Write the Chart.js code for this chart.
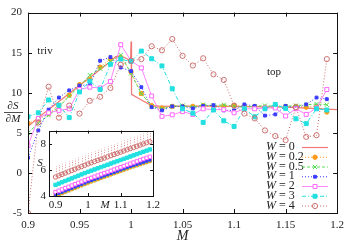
<!DOCTYPE html>
<html>
<head>
<meta charset="utf-8">
<script src="https://cdn.jsdelivr.net/npm/chart.js@4/dist/chart.umd.min.js"></script>
<style>
  body { margin: 0; background: #fff; }
  #wrap { position: relative; width: 350px; height: 245px; }
  #main { position: absolute; left: 0; top: 0; }
  #inset { position: absolute; left: 18px; top: 121px; }
</style>
</head>
<body>
<div id="wrap">
  <canvas id="main" width="350" height="245"></canvas>
  <canvas id="inset" width="145" height="96"></canvas>
</div>
<script>
// valeurs de M (pas de 0.01)
const M = [0.90, 0.91, 0.92, 0.93, 0.94, 0.95, 0.96, 0.97, 0.98, 0.99,
           1.00, 1.01, 1.02, 1.03, 1.04, 1.05, 1.06, 1.07, 1.08, 1.09,
           1.10, 1.11, 1.12, 1.13, 1.14, 1.15, 1.16, 1.17, 1.18, 1.19];

// W = 0 : courbe continue plus fine
const M_W0  = [0.90, 0.91, 0.92, 0.93, 0.94, 0.95, 0.96, 0.97, 0.98, 0.985, 0.99, 0.995, 0.9995, 1.0, 1.0005, 1.01, 1.02, 1.03, 1.05, 1.10, 1.15, 1.20];
const dS_W0 = [5.8, 6.9, 7.9, 8.9, 9.9, 10.9, 11.9, 12.9, 13.9, 14.5, 14.6, 14.3, 14.0, 16.4, 9.8, 9.1, 8.4, 8.3, 8.35, 8.3, 8.2, 7.9];

// dS/dM pour chaque desordre W
const dS_W02 = [6.2, 6.7, 7.4, 8.4, 9.7, 11.0, 11.7, 13.2, 14.2, 14.4, 12.6, 9.9, 8.4, 8.1, 8.3, 8.3, 8.3, 8.4, 8.3, 8.3, 8.4, 8.3, 8.3, 8.2, 8.3, 8.3, 8.3, 8.2, 8.3, 7.6];
const dS_W05 = [5.0, 6.2, 7.2, 8.2, 9.6, 10.8, 12.2, 13.0, 13.9, 14.7, 12.4, 9.9, 8.3, 8.0, 8.3, 8.4, 8.2, 8.5, 8.4, 8.5, 8.3, 8.2, 8.3, 8.4, 8.3, 8.3, 8.4, 8.5, 8.6, 8.5];
const dS_W1  = [1.9, 5.3, 7.9, 9.4, 10.3, 10.9, 11.0, 14.0, 14.45, 13.15, 12.7, 10.7, 8.2, 7.8, 8.3, 8.3, 8.05, 8.35, 8.45, 7.8, 7.8, 8.55, 8.35, 7.15, 7.3, 8.35, 8.1, 8.55, 9.4, 9.2];
const dS_W2  = [3.4, 6.8, 7.5, 7.8, 8.0, 10.4, 10.7, 10.6, 11.4, 16.0, 14.0, 13.1, 9.6, 7.05, 7.25, 7.65, 7.3, 8.0, 7.9, 7.9, 7.5, 8.0, 8.0, 8.1, 8.1, 7.1, 8.0, 7.3, 8.1, 10.4];
const dS_W3  = [7.0, 7.5, 9.1, 8.45, 6.9, 10.1, 11.45, 10.4, 13.55, 14.2, 13.9, 15.2, 14.25, 13.35, 10.5, 8.0, 7.45, 6.3, 7.85, 6.5, 5.8, 8.0, 7.0, 8.0, 8.55, 8.05, 6.75, 6.15, 8.0, 7.85];
const dS_W4  = [-5.0, 6.3, 10.75, 6.9, 8.4, 7.4, 9.0, 9.5, 10.6, 13.5, 14.0, 14.2, 15.8, 15.3, 16.7, 14.6, 13.4, 14.3, 12.3, 11.6, 8.4, 7.4, 6.8, 5.3, 4.6, 4.1, 8.2, 4.5, 4.7, 14.2];

// encart : entropie S(M)
const S_W0  = [4.00, 4.10, 4.20, 4.30, 4.40, 4.50, 4.60, 4.70, 4.80, 4.90, 5.00, 5.09, 5.18, 5.27, 5.36, 5.45, 5.54, 5.63, 5.72, 5.81, 5.90, 5.99, 6.08, 6.17, 6.25, 6.33, 6.41, 6.49, 6.57, 6.65];
const S_W02 = [4.02, 4.12, 4.22, 4.32, 4.42, 4.52, 4.62, 4.72, 4.82, 4.92, 5.02, 5.11, 5.20, 5.29, 5.38, 5.47, 5.56, 5.65, 5.74, 5.83, 5.92, 6.01, 6.10, 6.19, 6.27, 6.35, 6.43, 6.51, 6.59, 6.67];
const S_W05 = [4.05, 4.15, 4.25, 4.35, 4.45, 4.55, 4.65, 4.75, 4.85, 4.95, 5.05, 5.14, 5.23, 5.32, 5.41, 5.50, 5.59, 5.68, 5.77, 5.86, 5.95, 6.04, 6.13, 6.22, 6.30, 6.38, 6.46, 6.54, 6.62, 6.70];
const S_W1  = [4.10, 4.20, 4.30, 4.40, 4.50, 4.60, 4.70, 4.80, 4.90, 5.00, 5.10, 5.19, 5.28, 5.37, 5.46, 5.55, 5.64, 5.73, 5.82, 5.91, 6.00, 6.09, 6.18, 6.27, 6.35, 6.43, 6.51, 6.59, 6.67, 6.75];
const S_W2  = [4.30, 4.40, 4.50, 4.60, 4.70, 4.80, 4.90, 5.00, 5.10, 5.20, 5.30, 5.39, 5.48, 5.57, 5.66, 5.75, 5.84, 5.93, 6.02, 6.11, 6.20, 6.29, 6.38, 6.47, 6.56, 6.65, 6.74, 6.83, 6.92, 7.00];
const S_W3  = [4.85, 4.95, 5.05, 5.15, 5.25, 5.35, 5.45, 5.55, 5.65, 5.75, 5.85, 5.94, 6.03, 6.12, 6.21, 6.30, 6.39, 6.48, 6.57, 6.66, 6.75, 6.84, 6.93, 7.02, 7.11, 7.20, 7.29, 7.38, 7.47, 7.56];
const S_W4  = [5.45, 5.55, 5.65, 5.75, 5.85, 5.95, 6.05, 6.15, 6.25, 6.35, 6.45, 6.54, 6.63, 6.72, 6.81, 6.90, 6.99, 7.08, 7.17, 7.26, 7.35, 7.44, 7.53, 7.62, 7.71, 7.80, 7.89, 7.98, 8.07, 8.15];
const S_W4_err = [0.8, 0.8, 0.8, 0.8, 0.8, 0.8, 0.8, 0.8, 0.8, 0.8, 0.8, 0.8, 0.8, 0.8, 0.8, 0.8, 0.8, 0.8, 0.8, 0.8, 0.8, 0.8, 0.8, 0.8, 0.8, 0.8, 0.8, 0.8, 0.8, 0.8];

const mainTicksX = [0.9, 0.95, 1, 1.05, 1.1, 1.15, 1.2];
const mainTicksY = [-5, 0, 5, 10, 15, 20];
const insetTicksX = [0.9, 1, 1.1, 1.2];
const insetTicksY = [4, 6, 8];

const SERIF = "'Liberation Serif', 'DejaVu Serif', serif";

function pts(xs, ys) {
    return xs.map((x, i) => ({ x: x, y: ys[i] }));
}

// styles des series (communs au graphe et a l'encart)
const styles = [
    { label: '0',   color: '#f07878', dash: [],           point: false,  width: 1.2 },
    { label: '0.2', color: '#ff9a1a', dash: [1, 2],       point: 'circle', r: 2.2, fill: '#ff9a1a', width: 1 },
    { label: '0.5', color: '#55dd55', dash: [3, 2],       point: 'crossRot', r: 3, fill: '#55dd55', width: 1 },
    { label: '1',   color: '#3a3aff', dash: [1, 2],       point: 'rect', r: 2, fill: '#3a3aff', width: 1 },
    { label: '2',   color: '#ff66ff', dash: [],           point: 'rect', r: 2.8, fill: '#ffffff', width: 0.8 },
    { label: '3',   color: '#22e0e0', dash: [4, 2, 1, 2], point: 'rect', r: 2.8, fill: '#22e0e0', width: 1 },
    { label: '4',   color: '#cc7070', dash: [1, 2],       point: 'circle', r: 2.6, fill: 'rgba(255,255,255,0)', width: 1 }
];

function makeDataset(st, data, idx) {
    return {
        label: st.label,
        data: data,
        borderColor: st.color,
        borderWidth: st.width,
        borderDash: st.dash,
        pointStyle: st.point || 'circle',
        pointRadius: st.point ? st.r : 0,
        pointBackgroundColor: st.fill || st.color,
        pointBorderColor: st.color,
        pointBorderWidth: 1,
        tension: 0,
        fill: false,
        order: 10 - idx
    };
}

// cadre avec graduations vers l'interieur (style gnuplot)
const framePlugin = {
    id: 'frame',
    afterDatasetsDraw(chart, args, opts) {
        const { ctx, chartArea: a, scales } = chart;
        const L = opts.len || 4;
        ctx.save();
        ctx.strokeStyle = '#111';
        ctx.lineWidth = 1;
        ctx.strokeRect(Math.round(a.left) + 0.5, Math.round(a.top) + 0.5,
                       Math.round(a.right - a.left), Math.round(a.bottom - a.top));
        ctx.beginPath();
        opts.tx.forEach(v => {
            const x = Math.round(scales.x.getPixelForValue(v)) + 0.5;
            ctx.moveTo(x, a.bottom); ctx.lineTo(x, a.bottom - L);
            ctx.moveTo(x, a.top); ctx.lineTo(x, a.top + L);
        });
        opts.ty.forEach(v => {
            const y = Math.round(scales.y.getPixelForValue(v)) + 0.5;
            ctx.moveTo(a.left, y); ctx.lineTo(a.left + L, y);
            ctx.moveTo(a.right, y); ctx.lineTo(a.right - L, y);
        });
        ctx.stroke();
        ctx.restore();
    }
};

// legende dessinee a la main : "W = x" puis l'echantillon de ligne
const legendPlugin = {
    id: 'wlegend',
    afterDraw(chart) {
        const ctx = chart.ctx;
        ctx.save();
        chart.data.datasets.forEach((ds, i) => {
            const y = 147 + i * 9.75;
            ctx.fillStyle = '#222';
            ctx.textBaseline = 'middle';
            ctx.font = 'italic 12px ' + SERIF;
            ctx.fillText('W', 266, y);
            ctx.font = '12px ' + SERIF;
            ctx.fillText('= ' + ds.label, 279, y);
            ctx.strokeStyle = ds.borderColor;
            ctx.lineWidth = ds.borderWidth;
            ctx.setLineDash(ds.borderDash);
            ctx.beginPath();
            ctx.moveTo(302, y + 0.5); ctx.lineTo(328, y + 0.5);
            ctx.stroke();
            ctx.setLineDash([]);
            if (ds.pointRadius > 0) {
                ctx.fillStyle = ds.pointBackgroundColor;
                ctx.strokeStyle = ds.pointBorderColor;
                ctx.lineWidth = 1;
                Chart.helpers.drawPoint(ctx, { pointStyle: ds.pointStyle, radius: ds.pointRadius, rotation: 0, borderWidth: 1 }, 315, y + 0.5);
            }
        });
        ctx.restore();
    }
};

// textes libres : triv, top, dS/dM
const textPlugin = {
    id: 'labels',
    afterDraw(chart) {
        const ctx = chart.ctx;
        ctx.save();
        ctx.fillStyle = '#222';
        ctx.textAlign = 'center';
        ctx.textBaseline = 'middle';
        ctx.font = '11px ' + SERIF;
        ctx.fillText('triv', 45, 51);
        ctx.fillText('top', 274, 72);
        ctx.font = 'italic 11px ' + SERIF;
        ctx.fillText('\u2202S', 13, 106);
        ctx.fillText('\u2202M', 13, 119);
        ctx.strokeStyle = '#222';
        ctx.lineWidth = 0.8;
        ctx.beginPath();
        ctx.moveTo(4, 112.5); ctx.lineTo(23, 112.5);
        ctx.stroke();
        ctx.restore();
    }
};

const tickFont = { family: SERIF, size: 11 };
const noGrid = { display: false, drawTicks: false, tickLength: 0 };

const mainChart = new Chart(document.getElementById('main'), {
    type: 'line',
    data: {
        datasets: [
            makeDataset(styles[0], pts(M_W0, dS_W0), 0),
            makeDataset(styles[1], pts(M, dS_W02), 1),
            makeDataset(styles[2], pts(M, dS_W05), 2),
            makeDataset(styles[3], pts(M, dS_W1), 3),
            makeDataset(styles[4], pts(M, dS_W2), 4),
            makeDataset(styles[5], pts(M, dS_W3), 5),
            makeDataset(styles[6], pts(M, dS_W4), 6)
        ]
    },
    options: {
        responsive: false,
        animation: false,
        devicePixelRatio: 1,
        layout: { padding: { top: 9, right: 9, left: 0, bottom: 0 } },
        plugins: {
            legend: { display: false },
            tooltip: { enabled: false },
            frame: { tx: mainTicksX, ty: mainTicksY, len: 4 }
        },
        scales: {
            x: {
                type: 'linear', min: 0.9, max: 1.2,
                afterFit: s => { s.height = 32; },
                afterBuildTicks: s => { s.ticks = mainTicksX.map(v => ({ value: v })); },
                ticks: { color: '#222', font: tickFont, padding: 6, maxRotation: 0,
                         callback: v => String(+v.toFixed(2)) },
                grid: noGrid,
                border: { display: false },
                title: { display: true, text: 'M', color: '#222',
                         font: { family: SERIF, size: 14, style: 'italic' }, padding: { top: 0, bottom: 0 } }
            },
            y: {
                min: -5, max: 20,
                afterFit: s => { s.width = 28; },
                afterBuildTicks: s => { s.ticks = mainTicksY.map(v => ({ value: v })); },
                ticks: { color: '#222', font: tickFont, padding: 6 },
                grid: noGrid,
                border: { display: false }
            }
        }
    },
    plugins: [framePlugin, legendPlugin, textPlugin]
});

// encart
const insetBg = {
    id: 'insetBg',
    beforeDatasetsDraw(chart) {
        const { ctx, chartArea: a } = chart;
        ctx.save();
        ctx.fillStyle = '#fff';
        ctx.fillRect(a.left, a.top, a.right - a.left, a.bottom - a.top);
        ctx.restore();
    }
};

const errPlugin = {
    id: 'errbars',
    afterDatasetsDraw(chart) {
        const { ctx, scales } = chart;
        ctx.save();
        ctx.strokeStyle = '#dd9090';
        ctx.lineWidth = 1;
        ctx.setLineDash([1, 1.5]);
        ctx.beginPath();
        M.forEach((m, i) => {
            const x = Math.round(scales.x.getPixelForValue(m)) + 0.5;
            ctx.moveTo(x, scales.y.getPixelForValue(S_W4[i]));
            ctx.lineTo(x, scales.y.getPixelForValue(S_W4[i] + S_W4_err[i]));
        });
        ctx.stroke();
        ctx.restore();
    }
};

const insetText = {
    id: 'insetText',
    afterDraw(chart) {
        const ctx = chart.ctx;
        ctx.save();
        ctx.fillStyle = '#222';
        ctx.textAlign = 'center';
        ctx.textBaseline = 'middle';
        ctx.font = 'italic 11px ' + SERIF;
        ctx.fillText('S', 40 - 18, 163 - 121);
        ctx.fillText('M', 105 - 18, 205 - 121);
        ctx.restore();
    }
};

const insetSmall = (st, data, idx) => {
    const d = makeDataset(st, data, idx);
    d.pointRadius = st.point ? Math.max(1.6, st.r - 0.4) : 0;
    return d;
};

const insetChart = new Chart(document.getElementById('inset'), {
    type: 'line',
    data: {
        datasets: [
            insetSmall(styles[0], pts(M, S_W0), 0),
            insetSmall(styles[1], pts(M, S_W02), 1),
            insetSmall(styles[2], pts(M, S_W05), 2),
            insetSmall(styles[3], pts(M, S_W1), 3),
            insetSmall(styles[4], pts(M, S_W2), 4),
            insetSmall(styles[5], pts(M, S_W3), 5),
            insetSmall(styles[6], pts(M, S_W4), 6)
        ]
    },
    options: {
        responsive: false,
        animation: false,
        devicePixelRatio: 1,
        layout: { padding: { top: 6, right: 5, left: 0, bottom: 0 } },
        plugins: {
            legend: { display: false },
            tooltip: { enabled: false },
            frame: { tx: insetTicksX, ty: insetTicksY, len: 3 }
        },
        scales: {
            x: {
                type: 'linear', min: 0.88, max: 1.2,
                afterFit: s => { s.height = 21; },
                afterBuildTicks: s => { s.ticks = insetTicksX.map(v => ({ value: v })); },
                ticks: { color: '#222', font: tickFont, padding: 3, maxRotation: 0,
                         callback: v => String(+v.toFixed(2)) },
                grid: noGrid,
                border: { display: false }
            },
            y: {
                min: 4, max: 9,
                afterFit: s => { s.width = 31; },
                afterBuildTicks: s => { s.ticks = insetTicksY.map(v => ({ value: v })); },
                ticks: { color: '#222', font: tickFont, padding: 3 },
                grid: noGrid,
                border: { display: false }
            }
        }
    },
    plugins: [insetBg, errPlugin, framePlugin, insetText]
});
</script>
</body>
</html>
